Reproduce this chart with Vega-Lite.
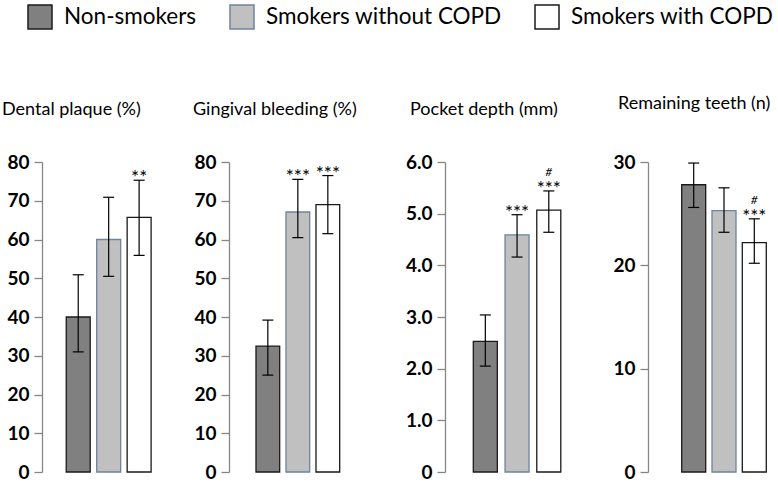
{
  "$schema": "https://vega.github.io/schema/vega-lite/v6.json",
  "padding": {"left": 2, "top": 4, "right": 5, "bottom": 4},
  "background": "white",
  "bounds": "flush",
  "spacing": 0,
  "datasets": {
    "d": [
      {"panel": "plaque", "group": "Non-smokers", "mean": 40.0, "lo": 31.0, "hi": 50.9, "stars": "", "hash": ""},
      {"panel": "plaque", "group": "Smokers without COPD", "mean": 60.0, "lo": 50.5, "hi": 70.9, "stars": "", "hash": ""},
      {"panel": "plaque", "group": "Smokers with COPD", "mean": 65.7, "lo": 55.9, "hi": 75.3, "stars": "**", "hash": ""},
      {"panel": "bleeding", "group": "Non-smokers", "mean": 32.5, "lo": 25.0, "hi": 39.2, "stars": "", "hash": ""},
      {"panel": "bleeding", "group": "Smokers without COPD", "mean": 67.1, "lo": 60.5, "hi": 75.5, "stars": "***", "hash": ""},
      {"panel": "bleeding", "group": "Smokers with COPD", "mean": 69.0, "lo": 61.5, "hi": 76.5, "stars": "***", "hash": ""},
      {"panel": "pocket", "group": "Non-smokers", "mean": 2.53, "lo": 2.05, "hi": 3.04, "stars": "", "hash": ""},
      {"panel": "pocket", "group": "Smokers without COPD", "mean": 4.59, "lo": 4.16, "hi": 4.98, "stars": "***", "hash": ""},
      {"panel": "pocket", "group": "Smokers with COPD", "mean": 5.07, "lo": 4.64, "hi": 5.44, "stars": "***", "hash": "#"},
      {"panel": "teeth", "group": "Non-smokers", "mean": 27.8, "lo": 25.6, "hi": 29.9, "stars": "", "hash": ""},
      {"panel": "teeth", "group": "Smokers without COPD", "mean": 25.3, "lo": 23.2, "hi": 27.5, "stars": "", "hash": ""},
      {"panel": "teeth", "group": "Smokers with COPD", "mean": 22.2, "lo": 20.2, "hi": 24.5, "stars": "***", "hash": "#"}
    ]
  },
  "hconcat": [
    {
      "width": 187, "height": 310,
      "title": {"text": "Dental plaque (%)", "anchor": "start", "frame": "group", "dx": -40, "offset": 34},
      "data": {"name": "d"},
      "transform": [{"filter": "datum.panel === 'plaque'"}],
      "encoding": {"x": {"field": "group", "type": "nominal", "axis": null, "scale": {"domain": ["Non-smokers", "Smokers without COPD", "Smokers with COPD", "pad1", "pad2"], "paddingInner": 0.213, "paddingOuter": 0.677, "align": 0.588}}},
      "layer": [
        {"mark": {"type": "bar", "strokeWidth": 1.3},
         "encoding": {
           "y": {"field": "mean", "type": "quantitative", "title": null, "scale": {"domain": [0, 80]}, "axis": {"title": null, "values": [0, 10, 20, 30, 40, 50, 60, 70, 80], "labelOverlap": false, "tickCount": 9}},
           "fill": {"field": "group", "type": "nominal", "scale": {"domain": ["Non-smokers", "Smokers without COPD", "Smokers with COPD"], "range": ["#808080", "#c0c0c0", "#ffffff"]},
             "legend": {"title": null, "encode": {"symbols": {"update": {"stroke": {"signal": "datum.value === 'Non-smokers' ? '#5a5a5a' : '#8496b0'"}}}}}},
           "stroke": {"field": "group", "type": "nominal", "scale": {"domain": ["Non-smokers", "Smokers without COPD", "Smokers with COPD"], "range": ["#1a1a1a", "#6f83a0", "#1a1a1a"]}, "legend": null}
         }},
        {"mark": {"type": "rule", "strokeWidth": 1.2, "color": "#000"}, "encoding": {"y": {"field": "lo", "type": "quantitative", "title": null}, "y2": {"field": "hi"}}},
        {"mark": {"type": "tick", "size": 11, "thickness": 1.2, "color": "#000", "opacity": 1}, "encoding": {"y": {"field": "lo", "type": "quantitative", "title": null}}},
        {"mark": {"type": "tick", "size": 11, "thickness": 1.2, "color": "#000", "opacity": 1}, "encoding": {"y": {"field": "hi", "type": "quantitative", "title": null}}},
        {"transform": [{"filter": "datum.stars !== ''"}], "mark": {"type": "text", "baseline": "alphabetic", "dy": 4, "fontSize": 19, "font": "Lato", "color": "#000"}, "encoding": {"y": {"field": "hi", "type": "quantitative", "title": null}, "text": {"field": "stars"}}},
        {"transform": [{"filter": "datum.hash !== ''"}], "mark": {"type": "text", "baseline": "alphabetic", "dy": -15, "fontSize": 12, "fontStyle": "italic", "font": "Lato", "color": "#000"}, "encoding": {"y": {"field": "hi", "type": "quantitative", "title": null}, "text": {"field": "hash"}}}
      ]
    },
    {
      "width": 216, "height": 310,
      "title": {"text": "Gingival bleeding (%)", "anchor": "start", "frame": "group", "dx": -36, "offset": 34},
      "data": {"name": "d"},
      "transform": [{"filter": "datum.panel === 'bleeding'"}],
      "encoding": {"x": {"field": "group", "type": "nominal", "axis": null, "scale": {"domain": ["Non-smokers", "Smokers without COPD", "Smokers with COPD", "pad1", "pad2", "pad3"], "paddingInner": 0.21, "paddingOuter": 0.705, "align": 0.638}}},
      "layer": [
        {"mark": {"type": "bar", "strokeWidth": 1.3},
         "encoding": {
           "y": {"field": "mean", "type": "quantitative", "title": null, "scale": {"domain": [0, 80]}, "axis": {"title": null, "values": [0, 10, 20, 30, 40, 50, 60, 70, 80], "labelOverlap": false, "tickCount": 9}},
           "fill": {"field": "group", "type": "nominal", "scale": {"domain": ["Non-smokers", "Smokers without COPD", "Smokers with COPD"], "range": ["#808080", "#c0c0c0", "#ffffff"]}},
           "stroke": {"field": "group", "type": "nominal", "scale": {"domain": ["Non-smokers", "Smokers without COPD", "Smokers with COPD"], "range": ["#1a1a1a", "#6f83a0", "#1a1a1a"]}, "legend": null}
         }},
        {"mark": {"type": "rule", "strokeWidth": 1.2, "color": "#000"}, "encoding": {"y": {"field": "lo", "type": "quantitative", "title": null}, "y2": {"field": "hi"}}},
        {"mark": {"type": "tick", "size": 11, "thickness": 1.2, "color": "#000", "opacity": 1}, "encoding": {"y": {"field": "lo", "type": "quantitative", "title": null}}},
        {"mark": {"type": "tick", "size": 11, "thickness": 1.2, "color": "#000", "opacity": 1}, "encoding": {"y": {"field": "hi", "type": "quantitative", "title": null}}},
        {"transform": [{"filter": "datum.stars !== ''"}], "mark": {"type": "text", "baseline": "alphabetic", "dy": 4, "fontSize": 19, "font": "Lato", "color": "#000"}, "encoding": {"y": {"field": "hi", "type": "quantitative", "title": null}, "text": {"field": "stars"}}},
        {"transform": [{"filter": "datum.hash !== ''"}], "mark": {"type": "text", "baseline": "alphabetic", "dy": -15, "fontSize": 12, "fontStyle": "italic", "font": "Lato", "color": "#000"}, "encoding": {"y": {"field": "hi", "type": "quantitative", "title": null}, "text": {"field": "hash"}}}
      ]
    },
    {
      "width": 203, "height": 310,
      "title": {"text": "Pocket depth (mm)", "anchor": "start", "frame": "group", "dx": -35, "offset": 34},
      "data": {"name": "d"},
      "transform": [{"filter": "datum.panel === 'pocket'"}],
      "encoding": {"x": {"field": "group", "type": "nominal", "axis": null, "scale": {"domain": ["Non-smokers", "Smokers without COPD", "Smokers with COPD", "pad1", "pad2"], "paddingInner": 0.243, "paddingOuter": 0.82, "align": 0.544}}},
      "layer": [
        {"mark": {"type": "bar", "strokeWidth": 1.3},
         "encoding": {
           "y": {"field": "mean", "type": "quantitative", "title": null, "scale": {"domain": [0, 6]}, "axis": {"title": null, "values": [0, 1, 2, 3, 4, 5, 6], "labelOverlap": false, "labelExpr": "datum.value === 0 ? '0' : format(datum.value, '.1f')"}},
           "fill": {"field": "group", "type": "nominal", "scale": {"domain": ["Non-smokers", "Smokers without COPD", "Smokers with COPD"], "range": ["#808080", "#c0c0c0", "#ffffff"]}},
           "stroke": {"field": "group", "type": "nominal", "scale": {"domain": ["Non-smokers", "Smokers without COPD", "Smokers with COPD"], "range": ["#1a1a1a", "#6f83a0", "#1a1a1a"]}, "legend": null}
         }},
        {"mark": {"type": "rule", "strokeWidth": 1.2, "color": "#000"}, "encoding": {"y": {"field": "lo", "type": "quantitative", "title": null}, "y2": {"field": "hi"}}},
        {"mark": {"type": "tick", "size": 11, "thickness": 1.2, "color": "#000", "opacity": 1}, "encoding": {"y": {"field": "lo", "type": "quantitative", "title": null}}},
        {"mark": {"type": "tick", "size": 11, "thickness": 1.2, "color": "#000", "opacity": 1}, "encoding": {"y": {"field": "hi", "type": "quantitative", "title": null}}},
        {"transform": [{"filter": "datum.stars !== ''"}], "mark": {"type": "text", "baseline": "alphabetic", "dy": 4, "fontSize": 19, "font": "Lato", "color": "#000"}, "encoding": {"y": {"field": "hi", "type": "quantitative", "title": null}, "text": {"field": "stars"}}},
        {"transform": [{"filter": "datum.hash !== ''"}], "mark": {"type": "text", "baseline": "alphabetic", "dy": -15, "fontSize": 12, "fontStyle": "italic", "font": "Lato", "color": "#000"}, "encoding": {"y": {"field": "hi", "type": "quantitative", "title": null}, "text": {"field": "hash"}}}
      ]
    },
    {
      "width": 125, "height": 310,
      "title": {"text": "Remaining teeth (n)", "anchor": "start", "frame": "group", "dx": -30, "offset": 40},
      "data": {"name": "d"},
      "transform": [{"filter": "datum.panel === 'teeth'"}],
      "encoding": {"x": {"field": "group", "type": "nominal", "axis": null, "scale": {"domain": ["Non-smokers", "Smokers without COPD", "Smokers with COPD"], "paddingInner": 0.208, "paddingOuter": 0.667, "align": 0.834}}},
      "layer": [
        {"mark": {"type": "bar", "strokeWidth": 1.3},
         "encoding": {
           "y": {"field": "mean", "type": "quantitative", "title": null, "scale": {"domain": [0, 30]}, "axis": {"title": null, "values": [0, 10, 20, 30], "labelOverlap": false}},
           "fill": {"field": "group", "type": "nominal", "scale": {"domain": ["Non-smokers", "Smokers without COPD", "Smokers with COPD"], "range": ["#808080", "#c0c0c0", "#ffffff"]}},
           "stroke": {"field": "group", "type": "nominal", "scale": {"domain": ["Non-smokers", "Smokers without COPD", "Smokers with COPD"], "range": ["#1a1a1a", "#6f83a0", "#1a1a1a"]}, "legend": null}
         }},
        {"mark": {"type": "rule", "strokeWidth": 1.2, "color": "#000"}, "encoding": {"y": {"field": "lo", "type": "quantitative", "title": null}, "y2": {"field": "hi"}}},
        {"mark": {"type": "tick", "size": 11, "thickness": 1.2, "color": "#000", "opacity": 1}, "encoding": {"y": {"field": "lo", "type": "quantitative", "title": null}}},
        {"mark": {"type": "tick", "size": 11, "thickness": 1.2, "color": "#000", "opacity": 1}, "encoding": {"y": {"field": "hi", "type": "quantitative", "title": null}}},
        {"transform": [{"filter": "datum.stars !== ''"}], "mark": {"type": "text", "baseline": "alphabetic", "dy": 4, "fontSize": 19, "font": "Lato", "color": "#000"}, "encoding": {"y": {"field": "hi", "type": "quantitative", "title": null}, "text": {"field": "stars"}}},
        {"transform": [{"filter": "datum.hash !== ''"}], "mark": {"type": "text", "baseline": "alphabetic", "dy": -15, "fontSize": 12, "fontStyle": "italic", "font": "Lato", "color": "#000"}, "encoding": {"y": {"field": "hi", "type": "quantitative", "title": null}, "text": {"field": "hash"}}}
      ]
    }
  ],
  "resolve": {"scale": {"x": "independent", "y": "independent", "fill": "shared", "stroke": "shared"}},
  "config": {
    "view": {"stroke": null},
    "font": "Lato",
    "axisY": {"domainColor": "#868686", "domainWidth": 1.3, "tickColor": "#868686", "tickWidth": 1.3, "tickSize": 8, "labelFont": "Lato", "labelFontSize": 19, "labelFontWeight": "bold", "labelColor": "#000", "labelPadding": 5, "labelOverlap": false, "labelBound": false, "grid": false},
    "title": {"font": "Lato", "fontSize": 18, "fontWeight": "normal", "color": "#000"},
    "legend": {"orient": "none", "legendX": -15, "legendY": -158, "direction": "horizontal", "symbolType": "square", "symbolSize": 576, "symbolStrokeWidth": 1.5, "labelFont": "Lato", "labelFontSize": 22.5, "labelColor": "#000", "labelOffset": 11, "columnPadding": 30, "labelLimit": 400}
  }
}
